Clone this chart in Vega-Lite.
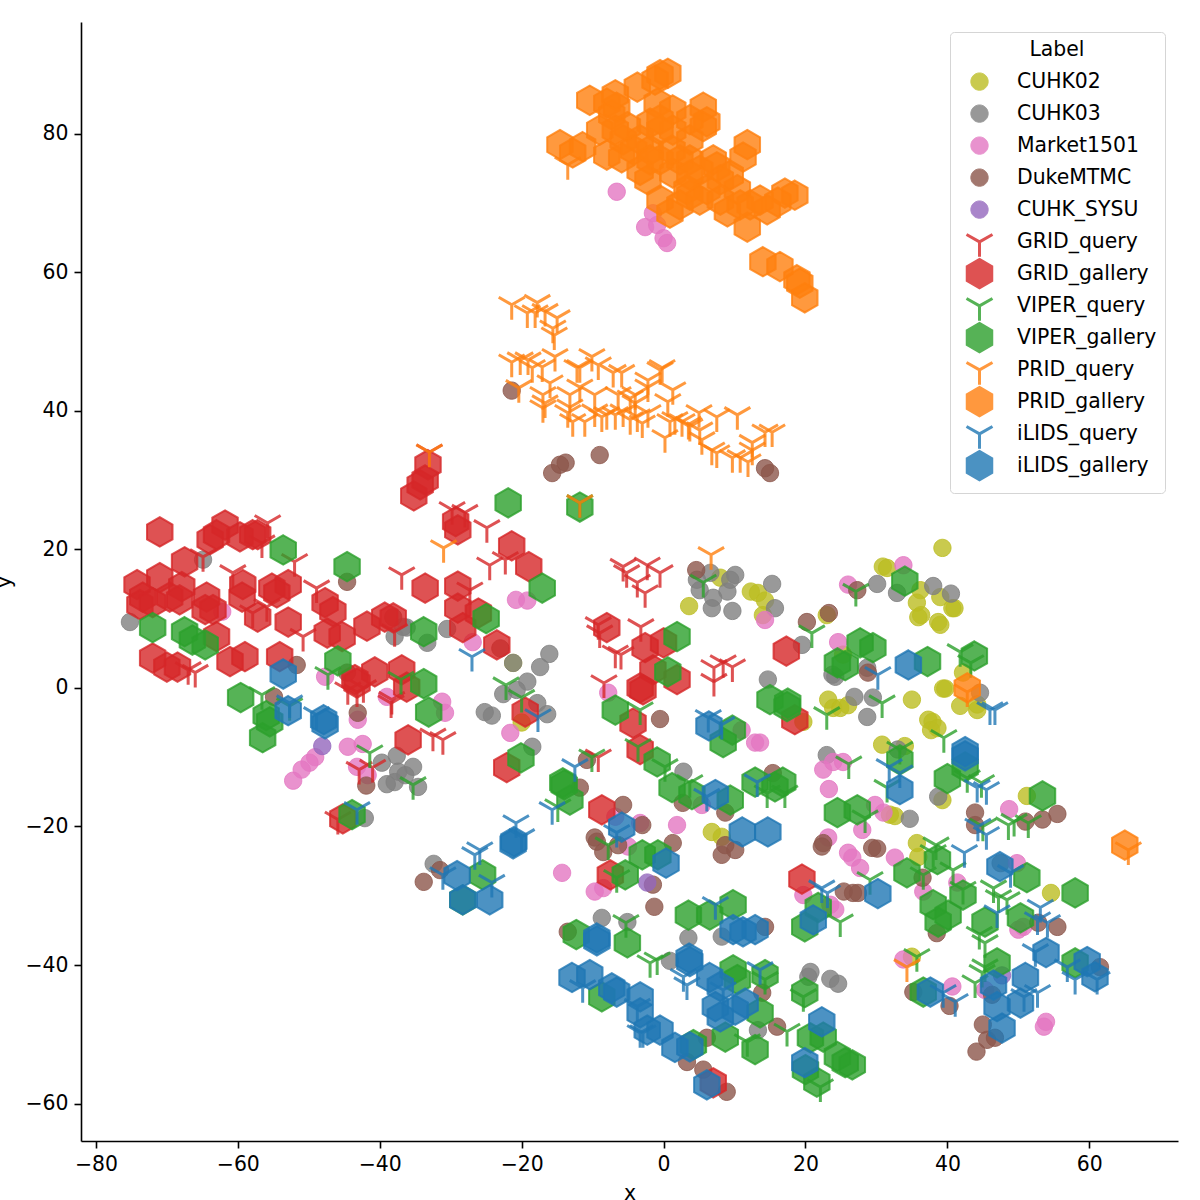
{
"$schema":"https://vega.github.io/schema/vega-lite/v6.json",
"width":1097,"height":1119,"autosize":"none",
"padding":{"left":81,"top":22,"right":22,"bottom":59},
"background":"white",
"config":{"view":{"stroke":null},"font":"DejaVu Sans"},
"data":{"values":[
{"x":39.3,"y":20.2,"Label":"CUHK02"},{"x":30.9,"y":17.5,"Label":"CUHK02"},{"x":31.5,"y":17.3,"Label":"CUHK02"},{"x":36.2,"y":14.1,"Label":"CUHK02"},{"x":35.7,"y":12.3,"Label":"CUHK02"},{"x":36.3,"y":10.5,"Label":"CUHK02"},{"x":35.9,"y":10.2,"Label":"CUHK02"},{"x":38.7,"y":9.5,"Label":"CUHK02"},{"x":39,"y":9.1,"Label":"CUHK02"},{"x":39,"y":13.1,"Label":"CUHK02"},{"x":40.7,"y":11.5,"Label":"CUHK02"},{"x":41,"y":11.5,"Label":"CUHK02"},{"x":25.3,"y":4.8,"Label":"CUHK02"},{"x":42.2,"y":2.2,"Label":"CUHK02"},{"x":39.7,"y":-0.1,"Label":"CUHK02"},{"x":39.4,"y":-0.1,"Label":"CUHK02"},{"x":41.8,"y":-2.6,"Label":"CUHK02"},{"x":44.2,"y":-3.2,"Label":"CUHK02"},{"x":44.2,"y":-2.4,"Label":"CUHK02"},{"x":23.2,"y":-1.7,"Label":"CUHK02"},{"x":23.9,"y":-2.9,"Label":"CUHK02"},{"x":24.9,"y":-2.9,"Label":"CUHK02"},{"x":26,"y":-2.5,"Label":"CUHK02"},{"x":35,"y":-1.7,"Label":"CUHK02"},{"x":37.3,"y":-4.6,"Label":"CUHK02"},{"x":37.9,"y":-4.9,"Label":"CUHK02"},{"x":37.7,"y":-6.1,"Label":"CUHK02"},{"x":38.6,"y":-5.8,"Label":"CUHK02"},{"x":30.8,"y":-8.2,"Label":"CUHK02"},{"x":34,"y":-8.4,"Label":"CUHK02"},{"x":39.3,"y":-16.2,"Label":"CUHK02"},{"x":51.2,"y":-15.6,"Label":"CUHK02"},{"x":31.9,"y":-18.3,"Label":"CUHK02"},{"x":32.6,"y":-18.5,"Label":"CUHK02"},{"x":35.7,"y":-22.4,"Label":"CUHK02"},{"x":35.9,"y":-24.4,"Label":"CUHK02"},{"x":54.6,"y":-29.6,"Label":"CUHK02"},{"x":35,"y":-38.8,"Label":"CUHK02"},{"x":3.6,"y":11.8,"Label":"CUHK02"},{"x":8,"y":15.9,"Label":"CUHK02"},{"x":12.3,"y":13.9,"Label":"CUHK02"},{"x":13.3,"y":13.7,"Label":"CUHK02"},{"x":14.3,"y":12.6,"Label":"CUHK02"},{"x":14,"y":10.5,"Label":"CUHK02"},{"x":19.7,"y":-4.9,"Label":"CUHK02"},{"x":6.8,"y":-20.8,"Label":"CUHK02"},{"x":8.2,"y":-21.5,"Label":"CUHK02"},{"x":23,"y":10.5,"Label":"CUHK02"},{"x":-21.2,"y":3.6,"Label":"CUHK02"},{"x":-20,"y":-5,"Label":"CUHK02"},
{"x":-75.2,"y":9.5,"Label":"CUHK03"},{"x":-64.9,"y":18.5,"Label":"CUHK03"},{"x":-37.9,"y":7.4,"Label":"CUHK03"},{"x":-36.2,"y":8.7,"Label":"CUHK03"},{"x":-33.3,"y":6.5,"Label":"CUHK03"},{"x":-36.7,"y":8.8,"Label":"CUHK03"},{"x":-30.5,"y":8.5,"Label":"CUHK03"},{"x":-39.7,"y":-10.8,"Label":"CUHK03"},{"x":-37.6,"y":-9.8,"Label":"CUHK03"},{"x":-35.3,"y":-11.4,"Label":"CUHK03"},{"x":-37.4,"y":-12.1,"Label":"CUHK03"},{"x":-36.4,"y":-12.6,"Label":"CUHK03"},{"x":-39,"y":-13.9,"Label":"CUHK03"},{"x":-37.9,"y":-13.6,"Label":"CUHK03"},{"x":-34.6,"y":-14.3,"Label":"CUHK03"},{"x":-42.1,"y":-18.8,"Label":"CUHK03"},{"x":-32.4,"y":-25.4,"Label":"CUHK03"},{"x":-16.1,"y":4.9,"Label":"CUHK03"},{"x":-17.4,"y":3,"Label":"CUHK03"},{"x":-21.2,"y":3.6,"Label":"CUHK03"},{"x":-19.2,"y":0.9,"Label":"CUHK03"},{"x":-22.6,"y":-0.9,"Label":"CUHK03"},{"x":-20.7,"y":-0.3,"Label":"CUHK03"},{"x":-17.8,"y":-2.2,"Label":"CUHK03"},{"x":-16.4,"y":-3.8,"Label":"CUHK03"},{"x":-25.2,"y":-3.5,"Label":"CUHK03"},{"x":-24.2,"y":-4,"Label":"CUHK03"},{"x":-18.5,"y":-8.5,"Label":"CUHK03"},{"x":6.6,"y":16.6,"Label":"CUHK03"},{"x":4.7,"y":15.6,"Label":"CUHK03"},{"x":5.1,"y":14.1,"Label":"CUHK03"},{"x":7,"y":13,"Label":"CUHK03"},{"x":6.8,"y":11.5,"Label":"CUHK03"},{"x":9,"y":13.9,"Label":"CUHK03"},{"x":9.4,"y":15.6,"Label":"CUHK03"},{"x":10.1,"y":16.3,"Label":"CUHK03"},{"x":9.7,"y":11.1,"Label":"CUHK03"},{"x":15.3,"y":15,"Label":"CUHK03"},{"x":15.7,"y":11.5,"Label":"CUHK03"},{"x":19.5,"y":6.2,"Label":"CUHK03"},{"x":14.7,"y":1.2,"Label":"CUHK03"},{"x":23,"y":-9.7,"Label":"CUHK03"},{"x":2.8,"y":-12.1,"Label":"CUHK03"},{"x":24.2,"y":1.6,"Label":"CUHK03"},{"x":30.1,"y":15,"Label":"CUHK03"},{"x":32.9,"y":13.7,"Label":"CUHK03"},{"x":38,"y":14.7,"Label":"CUHK03"},{"x":40.5,"y":13.6,"Label":"CUHK03"},{"x":26.9,"y":-1.3,"Label":"CUHK03"},{"x":29.5,"y":-1.4,"Label":"CUHK03"},{"x":28.7,"y":-4.2,"Label":"CUHK03"},{"x":23.8,"y":1.9,"Label":"CUHK03"},{"x":28.7,"y":2.9,"Label":"CUHK03"},{"x":44.6,"y":-0.7,"Label":"CUHK03"},{"x":33,"y":-8.9,"Label":"CUHK03"},{"x":38.7,"y":-15.7,"Label":"CUHK03"},{"x":34.7,"y":-18.9,"Label":"CUHK03"},{"x":-8.7,"y":-33.2,"Label":"CUHK03"},{"x":-5.1,"y":-33.8,"Label":"CUHK03"},{"x":3.5,"y":-36.1,"Label":"CUHK03"},{"x":0.9,"y":-39.4,"Label":"CUHK03"},{"x":8.2,"y":-35.9,"Label":"CUHK03"},{"x":20.7,"y":-41,"Label":"CUHK03"},{"x":20.4,"y":-41.7,"Label":"CUHK03"},{"x":23.5,"y":-42,"Label":"CUHK03"},{"x":24.6,"y":-42.7,"Label":"CUHK03"},{"x":13.3,"y":-49.4,"Label":"CUHK03"},{"x":47.5,"y":-25.3,"Label":"CUHK03"},
{"x":-6.6,"y":71.6,"Label":"Market1501"},{"x":-1.5,"y":68.5,"Label":"Market1501"},{"x":-2.6,"y":66.5,"Label":"Market1501"},{"x":-0.9,"y":66.8,"Label":"Market1501"},{"x":0,"y":64.9,"Label":"Market1501"},{"x":0.5,"y":64.2,"Label":"Market1501"},{"x":-47.7,"y":1.6,"Label":"Market1501"},{"x":-43.1,"y":-4.6,"Label":"Market1501"},{"x":-44.5,"y":-8.5,"Label":"Market1501"},{"x":-42.4,"y":-8.1,"Label":"Market1501"},{"x":-43.2,"y":-11.4,"Label":"Market1501"},{"x":-41.7,"y":-12.6,"Label":"Market1501"},{"x":-49.1,"y":-10,"Label":"Market1501"},{"x":-49.9,"y":-10.8,"Label":"Market1501"},{"x":-51,"y":-11.8,"Label":"Market1501"},{"x":-52.2,"y":-13.4,"Label":"Market1501"},{"x":-39,"y":-1.3,"Label":"Market1501"},{"x":-31.2,"y":-2,"Label":"Market1501"},{"x":-30.8,"y":-3.6,"Label":"Market1501"},{"x":-21.6,"y":-6.5,"Label":"Market1501"},{"x":-14.3,"y":-26.7,"Label":"Market1501"},{"x":-26.9,"y":6.6,"Label":"Market1501"},{"x":-62.2,"y":11,"Label":"Market1501"},{"x":-20.8,"y":12.7,"Label":"Market1501"},{"x":-19.2,"y":12.6,"Label":"Market1501"},{"x":14.3,"y":9.8,"Label":"Market1501"},{"x":26,"y":14.9,"Label":"Market1501"},{"x":33.8,"y":17.7,"Label":"Market1501"},{"x":24.6,"y":6.6,"Label":"Market1501"},{"x":12.9,"y":-7.9,"Label":"Market1501"},{"x":13.6,"y":-7.9,"Label":"Market1501"},{"x":-7.8,"y":-0.7,"Label":"Market1501"},{"x":11,"y":-6.1,"Label":"Market1501"},{"x":22.5,"y":-11.8,"Label":"Market1501"},{"x":23.9,"y":-10.7,"Label":"Market1501"},{"x":25.3,"y":-10.7,"Label":"Market1501"},{"x":23.3,"y":-14.6,"Label":"Market1501"},{"x":1.9,"y":-19.8,"Label":"Market1501"},{"x":-3.3,"y":-19.5,"Label":"Market1501"},{"x":-6.8,"y":-18.6,"Label":"Market1501"},{"x":5.4,"y":-16.9,"Label":"Market1501"},{"x":29.8,"y":-16.9,"Label":"Market1501"},{"x":31,"y":-18,"Label":"Market1501"},{"x":48.7,"y":-17.5,"Label":"Market1501"},{"x":28,"y":-20.5,"Label":"Market1501"},{"x":26,"y":-23.8,"Label":"Market1501"},{"x":26.6,"y":-24.5,"Label":"Market1501"},{"x":27.7,"y":-26,"Label":"Market1501"},{"x":32.6,"y":-24.5,"Label":"Market1501"},{"x":49.8,"y":-25.3,"Label":"Market1501"},{"x":23.2,"y":-21.6,"Label":"Market1501"},{"x":-9.7,"y":-29.4,"Label":"Market1501"},{"x":-8.5,"y":-28.9,"Label":"Market1501"},{"x":-5,"y":-22.9,"Label":"Market1501"},{"x":19.7,"y":-29.9,"Label":"Market1501"},{"x":23.5,"y":-31.3,"Label":"Market1501"},{"x":24.2,"y":-32,"Label":"Market1501"},{"x":41.4,"y":-28.1,"Label":"Market1501"},{"x":36.6,"y":-29.4,"Label":"Market1501"},{"x":50,"y":-34.9,"Label":"Market1501"},{"x":50.7,"y":-34.5,"Label":"Market1501"},{"x":40.7,"y":-43.1,"Label":"Market1501"},{"x":33.8,"y":-39.2,"Label":"Market1501"},{"x":45.3,"y":-43.6,"Label":"Market1501"},{"x":53.9,"y":-48.2,"Label":"Market1501"},{"x":53.6,"y":-48.9,"Label":"Market1501"},
{"x":-21.4,"y":42.9,"Label":"DukeMTMC"},{"x":-15.7,"y":31,"Label":"DukeMTMC"},{"x":-14.6,"y":32.2,"Label":"DukeMTMC"},{"x":-13.8,"y":32.5,"Label":"DukeMTMC"},{"x":-9,"y":33.6,"Label":"DukeMTMC"},{"x":14.3,"y":31.7,"Label":"DukeMTMC"},{"x":15,"y":31,"Label":"DukeMTMC"},{"x":-51.7,"y":3.3,"Label":"DukeMTMC"},{"x":-54.9,"y":-1.3,"Label":"DukeMTMC"},{"x":-44.6,"y":15.3,"Label":"DukeMTMC"},{"x":-43.1,"y":-3.6,"Label":"DukeMTMC"},{"x":-44.6,"y":2.2,"Label":"DukeMTMC"},{"x":-38.1,"y":10.2,"Label":"DukeMTMC"},{"x":-41.9,"y":-14.1,"Label":"DukeMTMC"},{"x":-33.8,"y":-28,"Label":"DukeMTMC"},{"x":-31.5,"y":-26.3,"Label":"DukeMTMC"},{"x":-23,"y":5.7,"Label":"DukeMTMC"},{"x":4.6,"y":17,"Label":"DukeMTMC"},{"x":20.2,"y":9.5,"Label":"DukeMTMC"},{"x":23.3,"y":10.8,"Label":"DukeMTMC"},{"x":-0.5,"y":-4.5,"Label":"DukeMTMC"},{"x":-10.8,"y":-10.4,"Label":"DukeMTMC"},{"x":-11.8,"y":-14.4,"Label":"DukeMTMC"},{"x":15.4,"y":-12.3,"Label":"DukeMTMC"},{"x":2.7,"y":-16.6,"Label":"DukeMTMC"},{"x":8.7,"y":-18,"Label":"DukeMTMC"},{"x":-5.7,"y":-16.9,"Label":"DukeMTMC"},{"x":-3,"y":-19.8,"Label":"DukeMTMC"},{"x":-9.7,"y":-21.6,"Label":"DukeMTMC"},{"x":-9.4,"y":-22.2,"Label":"DukeMTMC"},{"x":-8.5,"y":-23.7,"Label":"DukeMTMC"},{"x":-6.4,"y":-22.7,"Label":"DukeMTMC"},{"x":1.3,"y":-22.4,"Label":"DukeMTMC"},{"x":-1.3,"y":-31.6,"Label":"DukeMTMC"},{"x":-1.5,"y":-28.4,"Label":"DukeMTMC"},{"x":8.7,"y":-22.7,"Label":"DukeMTMC"},{"x":8.2,"y":-24.1,"Label":"DukeMTMC"},{"x":10.1,"y":-23.4,"Label":"DukeMTMC"},{"x":22.5,"y":-22.4,"Label":"DukeMTMC"},{"x":22.3,"y":-22.9,"Label":"DukeMTMC"},{"x":25.4,"y":-29.4,"Label":"DukeMTMC"},{"x":26.7,"y":-29.6,"Label":"DukeMTMC"},{"x":27.4,"y":-29.6,"Label":"DukeMTMC"},{"x":-13.5,"y":-35.2,"Label":"DukeMTMC"},{"x":14.3,"y":-34.5,"Label":"DukeMTMC"},{"x":13.9,"y":-44,"Label":"DukeMTMC"},{"x":16,"y":-48.9,"Label":"DukeMTMC"},{"x":6.1,"y":-50.5,"Label":"DukeMTMC"},{"x":5.6,"y":-55.1,"Label":"DukeMTMC"},{"x":8.9,"y":-58.3,"Label":"DukeMTMC"},{"x":3.3,"y":-54,"Label":"DukeMTMC"},{"x":27.3,"y":14.1,"Label":"DukeMTMC"},{"x":28.8,"y":2.2,"Label":"DukeMTMC"},{"x":43.9,"y":-18,"Label":"DukeMTMC"},{"x":43.9,"y":-19.8,"Label":"DukeMTMC"},{"x":51,"y":-19.3,"Label":"DukeMTMC"},{"x":53.4,"y":-19,"Label":"DukeMTMC"},{"x":55.5,"y":-18.2,"Label":"DukeMTMC"},{"x":29.4,"y":-23.1,"Label":"DukeMTMC"},{"x":30.1,"y":-23.2,"Label":"DukeMTMC"},{"x":36.5,"y":-27.4,"Label":"DukeMTMC"},{"x":38.5,"y":-35.4,"Label":"DukeMTMC"},{"x":55.5,"y":-34.5,"Label":"DukeMTMC"},{"x":52.8,"y":-33.9,"Label":"DukeMTMC"},{"x":35.2,"y":-43.9,"Label":"DukeMTMC"},{"x":40.3,"y":-45.9,"Label":"DukeMTMC"},{"x":45,"y":-48.6,"Label":"DukeMTMC"},{"x":45.6,"y":-50.8,"Label":"DukeMTMC"},{"x":46.7,"y":-50.5,"Label":"DukeMTMC"},{"x":44.1,"y":-52.5,"Label":"DukeMTMC"},{"x":46.3,"y":-44.3,"Label":"DukeMTMC"},{"x":61.5,"y":-40.3,"Label":"DukeMTMC"},
{"x":-48.1,"y":-8.4,"Label":"CUHK_SYSU"},{"x":-2.3,"y":-28.1,"Label":"CUHK_SYSU"},{"x":47.7,"y":-41.5,"Label":"CUHK_SYSU"},
{"x":-55.8,"y":23.8,"Label":"GRID_query"},{"x":-56.6,"y":20.9,"Label":"GRID_query"},{"x":-64.9,"y":18.9,"Label":"GRID_query"},{"x":-60.7,"y":16.6,"Label":"GRID_query"},{"x":-57.9,"y":10.8,"Label":"GRID_query"},{"x":-52,"y":18.2,"Label":"GRID_query"},{"x":-48.9,"y":14.4,"Label":"GRID_query"},{"x":-55.9,"y":11.7,"Label":"GRID_query"},{"x":-50.8,"y":7.4,"Label":"GRID_query"},{"x":-66,"y":2.2,"Label":"GRID_query"},{"x":-67,"y":2.6,"Label":"GRID_query"},{"x":-38.3,"y":-1.7,"Label":"GRID_query"},{"x":-36.9,"y":16.3,"Label":"GRID_query"},{"x":-33,"y":34,"Label":"GRID_query"},{"x":-29.8,"y":25.7,"Label":"GRID_query"},{"x":-28,"y":25.3,"Label":"GRID_query"},{"x":-24.9,"y":23.1,"Label":"GRID_query"},{"x":-24.5,"y":17.7,"Label":"GRID_query"},{"x":-22.3,"y":18.5,"Label":"GRID_query"},{"x":-27.3,"y":14.1,"Label":"GRID_query"},{"x":-37.9,"y":8.1,"Label":"GRID_query"},{"x":-44.5,"y":-0.3,"Label":"GRID_query"},{"x":-43.2,"y":-0.6,"Label":"GRID_query"},{"x":-42.3,"y":0,"Label":"GRID_query"},{"x":-38.4,"y":-2.2,"Label":"GRID_query"},{"x":-32.5,"y":-7,"Label":"GRID_query"},{"x":-31.1,"y":-7.5,"Label":"GRID_query"},{"x":-42.9,"y":-11.8,"Label":"GRID_query"},{"x":-41,"y":-11.5,"Label":"GRID_query"},{"x":-45.9,"y":-19,"Label":"GRID_query"},{"x":-5.7,"y":17.5,"Label":"GRID_query"},{"x":-2.3,"y":17.7,"Label":"GRID_query"},{"x":-5.2,"y":16.6,"Label":"GRID_query"},{"x":-3.7,"y":15.2,"Label":"GRID_query"},{"x":-0.5,"y":16.6,"Label":"GRID_query"},{"x":-2.6,"y":13.7,"Label":"GRID_query"},{"x":-9.2,"y":9.1,"Label":"GRID_query"},{"x":-9,"y":7.9,"Label":"GRID_query"},{"x":-3.2,"y":8.8,"Label":"GRID_query"},{"x":-6.8,"y":5,"Label":"GRID_query"},{"x":-6,"y":4.8,"Label":"GRID_query"},{"x":8.4,"y":3.6,"Label":"GRID_query"},{"x":9.7,"y":3,"Label":"GRID_query"},{"x":7.1,"y":2.9,"Label":"GRID_query"},{"x":7.1,"y":0.9,"Label":"GRID_query"},{"x":-8.4,"y":0.7,"Label":"GRID_query"},{"x":-9.2,"y":-10,"Label":"GRID_query"},
{"x":-71,"y":22.5,"Label":"GRID_gallery"},{"x":-61.8,"y":23.5,"Label":"GRID_gallery"},{"x":-63.9,"y":21.4,"Label":"GRID_gallery"},{"x":-63,"y":22.1,"Label":"GRID_gallery"},{"x":-59.7,"y":21.8,"Label":"GRID_gallery"},{"x":-57.9,"y":22.1,"Label":"GRID_gallery"},{"x":-57.2,"y":22.1,"Label":"GRID_gallery"},{"x":-67.5,"y":18.2,"Label":"GRID_gallery"},{"x":-74.2,"y":14.9,"Label":"GRID_gallery"},{"x":-71,"y":15.9,"Label":"GRID_gallery"},{"x":-73.4,"y":13.1,"Label":"GRID_gallery"},{"x":-73.8,"y":12,"Label":"GRID_gallery"},{"x":-67.9,"y":14.6,"Label":"GRID_gallery"},{"x":-72,"y":12.3,"Label":"GRID_gallery"},{"x":-69.6,"y":13.1,"Label":"GRID_gallery"},{"x":-68.2,"y":12.7,"Label":"GRID_gallery"},{"x":-64.4,"y":13.1,"Label":"GRID_gallery"},{"x":-64.6,"y":11.3,"Label":"GRID_gallery"},{"x":-63.5,"y":11.3,"Label":"GRID_gallery"},{"x":-63,"y":7.4,"Label":"GRID_gallery"},{"x":-59.3,"y":14.9,"Label":"GRID_gallery"},{"x":-59.4,"y":13.1,"Label":"GRID_gallery"},{"x":-55.2,"y":14.4,"Label":"GRID_gallery"},{"x":-52.9,"y":14.9,"Label":"GRID_gallery"},{"x":-57.2,"y":10.2,"Label":"GRID_gallery"},{"x":-52.9,"y":9.5,"Label":"GRID_gallery"},{"x":-54.5,"y":13.7,"Label":"GRID_gallery"},{"x":-47.7,"y":12.3,"Label":"GRID_gallery"},{"x":-46.6,"y":11,"Label":"GRID_gallery"},{"x":-47.4,"y":7.9,"Label":"GRID_gallery"},{"x":-45.3,"y":7.4,"Label":"GRID_gallery"},{"x":-41.8,"y":8.9,"Label":"GRID_gallery"},{"x":-39.3,"y":10.2,"Label":"GRID_gallery"},{"x":-38.1,"y":10.1,"Label":"GRID_gallery"},{"x":-61.1,"y":3.8,"Label":"GRID_gallery"},{"x":-59,"y":4.5,"Label":"GRID_gallery"},{"x":-54.1,"y":4.5,"Label":"GRID_gallery"},{"x":-72,"y":4.3,"Label":"GRID_gallery"},{"x":-70,"y":3,"Label":"GRID_gallery"},{"x":-68.5,"y":3,"Label":"GRID_gallery"},{"x":-43.5,"y":1.2,"Label":"GRID_gallery"},{"x":-40.7,"y":2.3,"Label":"GRID_gallery"},{"x":-36.9,"y":2.6,"Label":"GRID_gallery"},{"x":-36.2,"y":0.1,"Label":"GRID_gallery"},{"x":-43.2,"y":0.7,"Label":"GRID_gallery"},{"x":-35.2,"y":27.7,"Label":"GRID_gallery"},{"x":-34.3,"y":29.3,"Label":"GRID_gallery"},{"x":-33.2,"y":32.2,"Label":"GRID_gallery"},{"x":-33.6,"y":30,"Label":"GRID_gallery"},{"x":-29.3,"y":24,"Label":"GRID_gallery"},{"x":-29,"y":22.8,"Label":"GRID_gallery"},{"x":-33.6,"y":14.4,"Label":"GRID_gallery"},{"x":-29,"y":14.7,"Label":"GRID_gallery"},{"x":-29,"y":11.5,"Label":"GRID_gallery"},{"x":-26.1,"y":10.8,"Label":"GRID_gallery"},{"x":-28.3,"y":8.7,"Label":"GRID_gallery"},{"x":-23.5,"y":6.2,"Label":"GRID_gallery"},{"x":-21.4,"y":20.5,"Label":"GRID_gallery"},{"x":-19,"y":17.5,"Label":"GRID_gallery"},{"x":-36,"y":-7.5,"Label":"GRID_gallery"},{"x":-22.1,"y":-11.5,"Label":"GRID_gallery"},{"x":-45.2,"y":-18.9,"Label":"GRID_gallery"},{"x":-19.5,"y":-3.5,"Label":"GRID_gallery"},{"x":-8,"y":8.7,"Label":"GRID_gallery"},{"x":-2.6,"y":5.8,"Label":"GRID_gallery"},{"x":0,"y":6.5,"Label":"GRID_gallery"},{"x":1.9,"y":1.2,"Label":"GRID_gallery"},{"x":-1.5,"y":2.6,"Label":"GRID_gallery"},{"x":-2.9,"y":-0.3,"Label":"GRID_gallery"},{"x":-4.3,"y":-5.1,"Label":"GRID_gallery"},{"x":-3.3,"y":-8.9,"Label":"GRID_gallery"},{"x":17.3,"y":5.3,"Label":"GRID_gallery"},{"x":18.5,"y":-4.6,"Label":"GRID_gallery"},{"x":-8.7,"y":-17.6,"Label":"GRID_gallery"},{"x":-3.3,"y":0,"Label":"GRID_gallery"},{"x":-7.5,"y":-27,"Label":"GRID_gallery"},{"x":19.5,"y":-27.6,"Label":"GRID_gallery"},{"x":7,"y":-57,"Label":"GRID_gallery"},
{"x":-47.3,"y":1.9,"Label":"VIPER_query"},{"x":-37,"y":1.2,"Label":"VIPER_query"},{"x":-41.4,"y":-9.4,"Label":"VIPER_query"},{"x":-35.3,"y":-14,"Label":"VIPER_query"},{"x":-22.2,"y":0.4,"Label":"VIPER_query"},{"x":-20,"y":-1.4,"Label":"VIPER_query"},{"x":5.6,"y":15.2,"Label":"VIPER_query"},{"x":-3.3,"y":-3.2,"Label":"VIPER_query"},{"x":-3.6,"y":-8.5,"Label":"VIPER_query"},{"x":0.2,"y":-11.4,"Label":"VIPER_query"},{"x":3.7,"y":-13.7,"Label":"VIPER_query"},{"x":-10.1,"y":-10,"Label":"VIPER_query"},{"x":20.9,"y":7.9,"Label":"VIPER_query"},{"x":23,"y":-3.9,"Label":"VIPER_query"},{"x":14.6,"y":-15.2,"Label":"VIPER_query"},{"x":17.1,"y":-15.2,"Label":"VIPER_query"},{"x":-14.9,"y":-17.2,"Label":"VIPER_query"},{"x":-11.8,"y":26.7,"Label":"VIPER_query"},{"x":27.1,"y":13.9,"Label":"VIPER_query"},{"x":30.8,"y":-2.2,"Label":"VIPER_query"},{"x":39.5,"y":-7.2,"Label":"VIPER_query"},{"x":41.8,"y":5.2,"Label":"VIPER_query"},{"x":43.3,"y":3.6,"Label":"VIPER_query"},{"x":26.1,"y":-11,"Label":"VIPER_query"},{"x":33.3,"y":-8.9,"Label":"VIPER_query"},{"x":31.5,"y":-14.4,"Label":"VIPER_query"},{"x":28.4,"y":-18.8,"Label":"VIPER_query"},{"x":42.8,"y":-13,"Label":"VIPER_query"},{"x":45,"y":-20,"Label":"VIPER_query"},{"x":48.6,"y":-19.8,"Label":"VIPER_query"},{"x":49.4,"y":-19.3,"Label":"VIPER_query"},{"x":51.4,"y":-19.5,"Label":"VIPER_query"},{"x":44.8,"y":-13.7,"Label":"VIPER_query"},{"x":38.4,"y":-22.7,"Label":"VIPER_query"},{"x":38,"y":-23.8,"Label":"VIPER_query"},{"x":29.1,"y":-27.7,"Label":"VIPER_query"},{"x":24.9,"y":-33.8,"Label":"VIPER_query"},{"x":35.7,"y":-38.8,"Label":"VIPER_query"},{"x":40.8,"y":-26.3,"Label":"VIPER_query"},{"x":42.2,"y":-29.1,"Label":"VIPER_query"},{"x":36.6,"y":-27,"Label":"VIPER_query"},{"x":46.5,"y":-28.9,"Label":"VIPER_query"},{"x":48.4,"y":-30.6,"Label":"VIPER_query"},{"x":47.2,"y":-30.3,"Label":"VIPER_query"},{"x":44.5,"y":-35.6,"Label":"VIPER_query"},{"x":45.3,"y":-36.8,"Label":"VIPER_query"},{"x":45.3,"y":-40.3,"Label":"VIPER_query"},{"x":43.9,"y":-42.6,"Label":"VIPER_query"},{"x":44.9,"y":-41.1,"Label":"VIPER_query"},{"x":-1.9,"y":-39.7,"Label":"VIPER_query"},{"x":-0.9,"y":-39.3,"Label":"VIPER_query"},{"x":-5.3,"y":-33.9,"Label":"VIPER_query"},{"x":-7.8,"y":-22.7,"Label":"VIPER_query"},{"x":-6.6,"y":-27.4,"Label":"VIPER_query"},{"x":17.4,"y":-49.6,"Label":"VIPER_query"},{"x":11.8,"y":-51.1,"Label":"VIPER_query"},{"x":19.7,"y":-44.6,"Label":"VIPER_query"},{"x":22.1,"y":-57.6,"Label":"VIPER_query"},{"x":14.3,"y":-42.1,"Label":"VIPER_query"},{"x":-56.6,"y":-1,"Label":"VIPER_query"},{"x":-52.7,"y":-2.6,"Label":"VIPER_query"},
{"x":-53.6,"y":19.9,"Label":"VIPER_gallery"},{"x":-44.6,"y":17.5,"Label":"VIPER_gallery"},{"x":-72,"y":8.7,"Label":"VIPER_gallery"},{"x":-67.5,"y":8.1,"Label":"VIPER_gallery"},{"x":-66.4,"y":6.9,"Label":"VIPER_gallery"},{"x":-64.6,"y":6.2,"Label":"VIPER_gallery"},{"x":-45.9,"y":3.9,"Label":"VIPER_gallery"},{"x":-59.6,"y":-1.4,"Label":"VIPER_gallery"},{"x":-56,"y":-4,"Label":"VIPER_gallery"},{"x":-56.5,"y":-7.2,"Label":"VIPER_gallery"},{"x":-55.5,"y":-4.9,"Label":"VIPER_gallery"},{"x":-33.8,"y":8.1,"Label":"VIPER_gallery"},{"x":-33.8,"y":0.6,"Label":"VIPER_gallery"},{"x":-33.1,"y":-3.5,"Label":"VIPER_gallery"},{"x":-21.9,"y":26.7,"Label":"VIPER_gallery"},{"x":-11.8,"y":26.1,"Label":"VIPER_gallery"},{"x":-17.1,"y":14.4,"Label":"VIPER_gallery"},{"x":-25,"y":10,"Label":"VIPER_gallery"},{"x":-43.9,"y":-18.3,"Label":"VIPER_gallery"},{"x":-20.1,"y":-10.1,"Label":"VIPER_gallery"},{"x":-14,"y":-14,"Label":"VIPER_gallery"},{"x":-13.2,"y":-16.2,"Label":"VIPER_gallery"},{"x":-14.2,"y":-13.7,"Label":"VIPER_gallery"},{"x":1.9,"y":7.4,"Label":"VIPER_gallery"},{"x":0.6,"y":2.3,"Label":"VIPER_gallery"},{"x":-6.8,"y":-3.2,"Label":"VIPER_gallery"},{"x":8.4,"y":-7.9,"Label":"VIPER_gallery"},{"x":9.7,"y":-6.1,"Label":"VIPER_gallery"},{"x":-0.9,"y":-10.7,"Label":"VIPER_gallery"},{"x":1.2,"y":-14.4,"Label":"VIPER_gallery"},{"x":4,"y":-15.4,"Label":"VIPER_gallery"},{"x":9.4,"y":-16.2,"Label":"VIPER_gallery"},{"x":12.9,"y":-13.6,"Label":"VIPER_gallery"},{"x":15.7,"y":-14.3,"Label":"VIPER_gallery"},{"x":16.8,"y":-13.6,"Label":"VIPER_gallery"},{"x":15,"y":-1.7,"Label":"VIPER_gallery"},{"x":17.5,"y":-2.2,"Label":"VIPER_gallery"},{"x":17.4,"y":-2.7,"Label":"VIPER_gallery"},{"x":24.5,"y":3.6,"Label":"VIPER_gallery"},{"x":24.5,"y":-18,"Label":"VIPER_gallery"},{"x":34,"y":15.4,"Label":"VIPER_gallery"},{"x":27.7,"y":6.5,"Label":"VIPER_gallery"},{"x":29.5,"y":5.8,"Label":"VIPER_gallery"},{"x":25.6,"y":3.2,"Label":"VIPER_gallery"},{"x":37.2,"y":3.8,"Label":"VIPER_gallery"},{"x":43.8,"y":4.6,"Label":"VIPER_gallery"},{"x":33.3,"y":-10.4,"Label":"VIPER_gallery"},{"x":42.5,"y":-11.4,"Label":"VIPER_gallery"},{"x":40,"y":-13.1,"Label":"VIPER_gallery"},{"x":53.4,"y":-15.6,"Label":"VIPER_gallery"},{"x":27.3,"y":-17.6,"Label":"VIPER_gallery"},{"x":34.3,"y":-26.7,"Label":"VIPER_gallery"},{"x":38.6,"y":-24.8,"Label":"VIPER_gallery"},{"x":42.2,"y":-29.9,"Label":"VIPER_gallery"},{"x":38,"y":-31.3,"Label":"VIPER_gallery"},{"x":40.1,"y":-32.8,"Label":"VIPER_gallery"},{"x":38.7,"y":-33.8,"Label":"VIPER_gallery"},{"x":45.3,"y":-33.8,"Label":"VIPER_gallery"},{"x":50.3,"y":-33.2,"Label":"VIPER_gallery"},{"x":51.2,"y":-27.4,"Label":"VIPER_gallery"},{"x":58,"y":-29.6,"Label":"VIPER_gallery"},{"x":47,"y":-39.7,"Label":"VIPER_gallery"},{"x":58,"y":-39.7,"Label":"VIPER_gallery"},{"x":36.6,"y":-43.9,"Label":"VIPER_gallery"},{"x":-3,"y":-24.1,"Label":"VIPER_gallery"},{"x":-0.8,"y":-24.1,"Label":"VIPER_gallery"},{"x":-5.4,"y":-27,"Label":"VIPER_gallery"},{"x":3.5,"y":-32.8,"Label":"VIPER_gallery"},{"x":6.5,"y":-32.8,"Label":"VIPER_gallery"},{"x":9.8,"y":-31.3,"Label":"VIPER_gallery"},{"x":-12.3,"y":-35.6,"Label":"VIPER_gallery"},{"x":-5.1,"y":-36.8,"Label":"VIPER_gallery"},{"x":9.8,"y":-40.7,"Label":"VIPER_gallery"},{"x":10.4,"y":-42.1,"Label":"VIPER_gallery"},{"x":14.3,"y":-41.4,"Label":"VIPER_gallery"},{"x":-8.7,"y":-44.6,"Label":"VIPER_gallery"},{"x":13.6,"y":-46.9,"Label":"VIPER_gallery"},{"x":8.7,"y":-50.4,"Label":"VIPER_gallery"},{"x":12.9,"y":-52.2,"Label":"VIPER_gallery"},{"x":4.2,"y":-51.5,"Label":"VIPER_gallery"},{"x":19.9,"y":-44,"Label":"VIPER_gallery"},{"x":21.8,"y":-31.7,"Label":"VIPER_gallery"},{"x":19.9,"y":-34.5,"Label":"VIPER_gallery"},{"x":20.7,"y":-50.5,"Label":"VIPER_gallery"},{"x":22.5,"y":-50.4,"Label":"VIPER_gallery"},{"x":20,"y":-55.1,"Label":"VIPER_gallery"},{"x":21.6,"y":-56.9,"Label":"VIPER_gallery"},{"x":24.5,"y":-53.2,"Label":"VIPER_gallery"},{"x":25.6,"y":-54.1,"Label":"VIPER_gallery"},{"x":26.6,"y":-54.4,"Label":"VIPER_gallery"},{"x":-28.3,"y":-30.6,"Label":"VIPER_gallery"},{"x":-25.5,"y":-27,"Label":"VIPER_gallery"},
{"x":-21.4,"y":55.3,"Label":"PRID_query"},{"x":-17.8,"y":55.6,"Label":"PRID_query"},{"x":-19.2,"y":54.1,"Label":"PRID_query"},{"x":-18.1,"y":54.1,"Label":"PRID_query"},{"x":-16.7,"y":54.3,"Label":"PRID_query"},{"x":-15,"y":53.4,"Label":"PRID_query"},{"x":-15.6,"y":51.9,"Label":"PRID_query"},{"x":-15.4,"y":50.9,"Label":"PRID_query"},{"x":-15.3,"y":47.8,"Label":"PRID_query"},{"x":-21.4,"y":47,"Label":"PRID_query"},{"x":-20.2,"y":47.3,"Label":"PRID_query"},{"x":-19.1,"y":47.3,"Label":"PRID_query"},{"x":-18.5,"y":46.2,"Label":"PRID_query"},{"x":-17.1,"y":46.3,"Label":"PRID_query"},{"x":-20.4,"y":43.3,"Label":"PRID_query"},{"x":-16,"y":44,"Label":"PRID_query"},{"x":-17,"y":42.3,"Label":"PRID_query"},{"x":-16.7,"y":41.1,"Label":"PRID_query"},{"x":-17,"y":40.4,"Label":"PRID_query"},{"x":-13.2,"y":42.3,"Label":"PRID_query"},{"x":-13.2,"y":40.5,"Label":"PRID_query"},{"x":-12.8,"y":38.4,"Label":"PRID_query"},{"x":-13.5,"y":39.7,"Label":"PRID_query"},{"x":-12.2,"y":46.2,"Label":"PRID_query"},{"x":-11.8,"y":46.2,"Label":"PRID_query"},{"x":-11.8,"y":43.4,"Label":"PRID_query"},{"x":-10.1,"y":47.8,"Label":"PRID_query"},{"x":-9.2,"y":46.6,"Label":"PRID_query"},{"x":-7.1,"y":45.5,"Label":"PRID_query"},{"x":-5.9,"y":45.5,"Label":"PRID_query"},{"x":-9.7,"y":42.3,"Label":"PRID_query"},{"x":-9.7,"y":39.8,"Label":"PRID_query"},{"x":-11.1,"y":38.4,"Label":"PRID_query"},{"x":-8.7,"y":39.1,"Label":"PRID_query"},{"x":-8,"y":39.4,"Label":"PRID_query"},{"x":-6.8,"y":39.4,"Label":"PRID_query"},{"x":-5.7,"y":39.8,"Label":"PRID_query"},{"x":-6.4,"y":42.3,"Label":"PRID_query"},{"x":-4.7,"y":41.8,"Label":"PRID_query"},{"x":-4,"y":42.3,"Label":"PRID_query"},{"x":-4,"y":41.1,"Label":"PRID_query"},{"x":-2.2,"y":43.4,"Label":"PRID_query"},{"x":-2.2,"y":44.4,"Label":"PRID_query"},{"x":-0.5,"y":45.9,"Label":"PRID_query"},{"x":-0.2,"y":46.2,"Label":"PRID_query"},{"x":1.3,"y":43,"Label":"PRID_query"},{"x":0.6,"y":41.3,"Label":"PRID_query"},{"x":-2.2,"y":39.7,"Label":"PRID_query"},{"x":-3.7,"y":39.1,"Label":"PRID_query"},{"x":-4.7,"y":38.7,"Label":"PRID_query"},{"x":-3,"y":38.2,"Label":"PRID_query"},{"x":0.2,"y":36.1,"Label":"PRID_query"},{"x":0.9,"y":38.4,"Label":"PRID_query"},{"x":1.6,"y":38.7,"Label":"PRID_query"},{"x":2.6,"y":38.4,"Label":"PRID_query"},{"x":3.5,"y":38,"Label":"PRID_query"},{"x":5,"y":39.7,"Label":"PRID_query"},{"x":5.1,"y":37.2,"Label":"PRID_query"},{"x":7.5,"y":39.1,"Label":"PRID_query"},{"x":10.4,"y":39.4,"Label":"PRID_query"},{"x":6.8,"y":34.3,"Label":"PRID_query"},{"x":7.5,"y":33.9,"Label":"PRID_query"},{"x":5.4,"y":35.8,"Label":"PRID_query"},{"x":9.7,"y":33.2,"Label":"PRID_query"},{"x":10.8,"y":33.2,"Label":"PRID_query"},{"x":11.9,"y":32.6,"Label":"PRID_query"},{"x":12.5,"y":35.4,"Label":"PRID_query"},{"x":14.3,"y":36.9,"Label":"PRID_query"},{"x":15.3,"y":36.9,"Label":"PRID_query"},{"x":12.5,"y":34.3,"Label":"PRID_query"},{"x":3.7,"y":37.7,"Label":"PRID_query"},{"x":-33,"y":34,"Label":"PRID_query"},{"x":-31,"y":20.2,"Label":"PRID_query"},{"x":6.7,"y":19.2,"Label":"PRID_query"},{"x":-11.8,"y":26.7,"Label":"PRID_query"},{"x":42.8,"y":-0.6,"Label":"PRID_query"},{"x":34.3,"y":-40.3,"Label":"PRID_query"},{"x":65.5,"y":-23.4,"Label":"PRID_query"},{"x":-13.5,"y":75.5,"Label":"PRID_query"},
{"x":-14.6,"y":78.4,"Label":"PRID_gallery"},{"x":-12.8,"y":77.2,"Label":"PRID_gallery"},{"x":-11.4,"y":78.1,"Label":"PRID_gallery"},{"x":-8,"y":76.9,"Label":"PRID_gallery"},{"x":-5.9,"y":76.5,"Label":"PRID_gallery"},{"x":-8,"y":84.4,"Label":"PRID_gallery"},{"x":-7.3,"y":82.7,"Label":"PRID_gallery"},{"x":-3.7,"y":86.7,"Label":"PRID_gallery"},{"x":-0.5,"y":88.5,"Label":"PRID_gallery"},{"x":0.6,"y":88.7,"Label":"PRID_gallery"},{"x":-1.2,"y":87.7,"Label":"PRID_gallery"},{"x":5.6,"y":83.8,"Label":"PRID_gallery"},{"x":6.1,"y":81.7,"Label":"PRID_gallery"},{"x":5.6,"y":81,"Label":"PRID_gallery"},{"x":1.3,"y":83.4,"Label":"PRID_gallery"},{"x":-0.9,"y":84.4,"Label":"PRID_gallery"},{"x":-1.9,"y":81.5,"Label":"PRID_gallery"},{"x":1.3,"y":80.5,"Label":"PRID_gallery"},{"x":11.8,"y":78.4,"Label":"PRID_gallery"},{"x":11.2,"y":76.6,"Label":"PRID_gallery"},{"x":-2.2,"y":73.3,"Label":"PRID_gallery"},{"x":0.9,"y":68.5,"Label":"PRID_gallery"},{"x":1.3,"y":74.3,"Label":"PRID_gallery"},{"x":3.3,"y":71.9,"Label":"PRID_gallery"},{"x":7,"y":76.2,"Label":"PRID_gallery"},{"x":7.5,"y":75.2,"Label":"PRID_gallery"},{"x":10.4,"y":71.9,"Label":"PRID_gallery"},{"x":9,"y":68.7,"Label":"PRID_gallery"},{"x":11.8,"y":66.5,"Label":"PRID_gallery"},{"x":14.6,"y":69,"Label":"PRID_gallery"},{"x":13.6,"y":70.4,"Label":"PRID_gallery"},{"x":17.1,"y":71.4,"Label":"PRID_gallery"},{"x":18.5,"y":71.1,"Label":"PRID_gallery"},{"x":16.1,"y":70.1,"Label":"PRID_gallery"},{"x":14,"y":61.5,"Label":"PRID_gallery"},{"x":16.4,"y":60.8,"Label":"PRID_gallery"},{"x":18.8,"y":58.9,"Label":"PRID_gallery"},{"x":19.2,"y":58.4,"Label":"PRID_gallery"},{"x":19.9,"y":56.3,"Label":"PRID_gallery"},{"x":-5.7,"y":79.1,"Label":"PRID_gallery"},{"x":-3.3,"y":79.1,"Label":"PRID_gallery"},{"x":-5.1,"y":81,"Label":"PRID_gallery"},{"x":8,"y":73.3,"Label":"PRID_gallery"},{"x":6.1,"y":71.9,"Label":"PRID_gallery"},{"x":2.3,"y":76.2,"Label":"PRID_gallery"},{"x":-6.6,"y":83.8,"Label":"PRID_gallery"},{"x":42.8,"y":0,"Label":"PRID_gallery"},{"x":65,"y":-22.7,"Label":"PRID_gallery"},{"x":-4.2,"y":77.6,"Label":"PRID_gallery"},{"x":-1.9,"y":77.6,"Label":"PRID_gallery"},{"x":-0.5,"y":76.2,"Label":"PRID_gallery"},{"x":-0.5,"y":80.5,"Label":"PRID_gallery"},{"x":-3.3,"y":74.7,"Label":"PRID_gallery"},{"x":5.1,"y":74.7,"Label":"PRID_gallery"},{"x":3.7,"y":76.2,"Label":"PRID_gallery"},{"x":3.7,"y":71.1,"Label":"PRID_gallery"},{"x":12.2,"y":69.7,"Label":"PRID_gallery"},{"x":9.4,"y":74,"Label":"PRID_gallery"},{"x":3.7,"y":79.1,"Label":"PRID_gallery"},{"x":-0.5,"y":70.4,"Label":"PRID_gallery"},{"x":2.3,"y":69.7,"Label":"PRID_gallery"},{"x":5.1,"y":70.4,"Label":"PRID_gallery"},{"x":8,"y":70.4,"Label":"PRID_gallery"},{"x":10.8,"y":69.7,"Label":"PRID_gallery"},{"x":3.7,"y":82,"Label":"PRID_gallery"},{"x":-0.5,"y":82,"Label":"PRID_gallery"},{"x":-6.8,"y":80.5,"Label":"PRID_gallery"},{"x":-10.4,"y":84.8,"Label":"PRID_gallery"},{"x":-9,"y":80.5,"Label":"PRID_gallery"},{"x":-6.8,"y":85.6,"Label":"PRID_gallery"},{"x":1.2,"y":77.6,"Label":"PRID_gallery"},{"x":3.7,"y":74,"Label":"PRID_gallery"},{"x":-1.9,"y":76.2,"Label":"PRID_gallery"},
{"x":-27,"y":4.5,"Label":"iLIDS_query"},{"x":-52.7,"y":-2.2,"Label":"iLIDS_query"},{"x":-48.9,"y":-3.9,"Label":"iLIDS_query"},{"x":-43.2,"y":-17.6,"Label":"iLIDS_query"},{"x":-15.7,"y":-17.6,"Label":"iLIDS_query"},{"x":-20.8,"y":-19.5,"Label":"iLIDS_query"},{"x":-20,"y":-21.5,"Label":"iLIDS_query"},{"x":-25.9,"y":-23.4,"Label":"iLIDS_query"},{"x":-26.6,"y":-24.1,"Label":"iLIDS_query"},{"x":-31.1,"y":-27,"Label":"iLIDS_query"},{"x":-24.2,"y":-28.1,"Label":"iLIDS_query"},{"x":-17.7,"y":-4.2,"Label":"iLIDS_query"},{"x":-12.5,"y":-11.4,"Label":"iLIDS_query"},{"x":6.3,"y":-4.3,"Label":"iLIDS_query"},{"x":8.2,"y":-5.3,"Label":"iLIDS_query"},{"x":13.2,"y":-13.6,"Label":"iLIDS_query"},{"x":6.1,"y":-15.7,"Label":"iLIDS_query"},{"x":-6.6,"y":-20.9,"Label":"iLIDS_query"},{"x":30.2,"y":1.9,"Label":"iLIDS_query"},{"x":46.7,"y":-3.2,"Label":"iLIDS_query"},{"x":46,"y":-3.2,"Label":"iLIDS_query"},{"x":31.8,"y":-11.4,"Label":"iLIDS_query"},{"x":33.3,"y":-12.3,"Label":"iLIDS_query"},{"x":44.2,"y":-14.4,"Label":"iLIDS_query"},{"x":45.5,"y":-14.7,"Label":"iLIDS_query"},{"x":44.3,"y":-20,"Label":"iLIDS_query"},{"x":45.5,"y":-21.2,"Label":"iLIDS_query"},{"x":42.4,"y":-23.8,"Label":"iLIDS_query"},{"x":48.9,"y":-26.7,"Label":"iLIDS_query"},{"x":53.1,"y":-31.7,"Label":"iLIDS_query"},{"x":52.7,"y":-33.5,"Label":"iLIDS_query"},{"x":54.1,"y":-33.9,"Label":"iLIDS_query"},{"x":52.4,"y":-38.1,"Label":"iLIDS_query"},{"x":47,"y":-32.5,"Label":"iLIDS_query"},{"x":56.9,"y":-40.3,"Label":"iLIDS_query"},{"x":58,"y":-42.1,"Label":"iLIDS_query"},{"x":61.1,"y":-42.1,"Label":"iLIDS_query"},{"x":39.4,"y":-44,"Label":"iLIDS_query"},{"x":41.1,"y":-45.3,"Label":"iLIDS_query"},{"x":50.8,"y":-44.6,"Label":"iLIDS_query"},{"x":52.7,"y":-44,"Label":"iLIDS_query"},{"x":23.1,"y":-29.6,"Label":"iLIDS_query"},{"x":7.3,"y":-31.3,"Label":"iLIDS_query"},{"x":13.6,"y":-40.7,"Label":"iLIDS_query"},{"x":2.8,"y":-41.7,"Label":"iLIDS_query"},{"x":3.3,"y":-42.9,"Label":"iLIDS_query"},{"x":-11.4,"y":-43.3,"Label":"iLIDS_query"},{"x":-3.3,"y":-49.8,"Label":"iLIDS_query"},{"x":-2.9,"y":-49.8,"Label":"iLIDS_query"},{"x":22.3,"y":-28.9,"Label":"iLIDS_query"},{"x":8.4,"y":-43.6,"Label":"iLIDS_query"},{"x":-3.7,"y":-46,"Label":"iLIDS_query"},
{"x":-53.6,"y":2,"Label":"iLIDS_gallery"},{"x":-52.9,"y":-3.3,"Label":"iLIDS_gallery"},{"x":-47.9,"y":-4.6,"Label":"iLIDS_gallery"},{"x":-47.7,"y":-5.2,"Label":"iLIDS_gallery"},{"x":-29.1,"y":-27.1,"Label":"iLIDS_gallery"},{"x":-24.5,"y":-30.6,"Label":"iLIDS_gallery"},{"x":-28.3,"y":-30.6,"Label":"iLIDS_gallery"},{"x":-21.1,"y":-22.2,"Label":"iLIDS_gallery"},{"x":-21.2,"y":-22.5,"Label":"iLIDS_gallery"},{"x":-5.9,"y":-20.1,"Label":"iLIDS_gallery"},{"x":0.35,"y":-25.3,"Label":"iLIDS_gallery"},{"x":6.4,"y":-5.5,"Label":"iLIDS_gallery"},{"x":7.3,"y":-15.4,"Label":"iLIDS_gallery"},{"x":11.1,"y":-20.8,"Label":"iLIDS_gallery"},{"x":14.7,"y":-20.8,"Label":"iLIDS_gallery"},{"x":-9.4,"y":-36.1,"Label":"iLIDS_gallery"},{"x":-9.4,"y":-36.5,"Label":"iLIDS_gallery"},{"x":3.6,"y":-39,"Label":"iLIDS_gallery"},{"x":3.7,"y":-39.5,"Label":"iLIDS_gallery"},{"x":33.3,"y":-14.7,"Label":"iLIDS_gallery"},{"x":30.2,"y":-29.7,"Label":"iLIDS_gallery"},{"x":34.5,"y":3.3,"Label":"iLIDS_gallery"},{"x":42.5,"y":-9.2,"Label":"iLIDS_gallery"},{"x":42.5,"y":-9.8,"Label":"iLIDS_gallery"},{"x":47.4,"y":-25.8,"Label":"iLIDS_gallery"},{"x":-12.9,"y":-41.8,"Label":"iLIDS_gallery"},{"x":-10.4,"y":-41.4,"Label":"iLIDS_gallery"},{"x":-7.3,"y":-43.3,"Label":"iLIDS_gallery"},{"x":-6.6,"y":-43.9,"Label":"iLIDS_gallery"},{"x":-3.3,"y":-44.6,"Label":"iLIDS_gallery"},{"x":-3.3,"y":-46.9,"Label":"iLIDS_gallery"},{"x":-2.3,"y":-49.4,"Label":"iLIDS_gallery"},{"x":-0.5,"y":-49.4,"Label":"iLIDS_gallery"},{"x":1.6,"y":-51.9,"Label":"iLIDS_gallery"},{"x":3.7,"y":-51.8,"Label":"iLIDS_gallery"},{"x":6.5,"y":-41.8,"Label":"iLIDS_gallery"},{"x":8,"y":-43.1,"Label":"iLIDS_gallery"},{"x":7.3,"y":-46,"Label":"iLIDS_gallery"},{"x":8,"y":-47.5,"Label":"iLIDS_gallery"},{"x":10.1,"y":-46.5,"Label":"iLIDS_gallery"},{"x":11.5,"y":-45.5,"Label":"iLIDS_gallery"},{"x":9.8,"y":-34.9,"Label":"iLIDS_gallery"},{"x":11.2,"y":-35.2,"Label":"iLIDS_gallery"},{"x":12.9,"y":-34.9,"Label":"iLIDS_gallery"},{"x":22.3,"y":-48.2,"Label":"iLIDS_gallery"},{"x":21.1,"y":-33.5,"Label":"iLIDS_gallery"},{"x":19.9,"y":-54.1,"Label":"iLIDS_gallery"},{"x":6.1,"y":-57.3,"Label":"iLIDS_gallery"},{"x":37.6,"y":-43.9,"Label":"iLIDS_gallery"},{"x":46.5,"y":-42.9,"Label":"iLIDS_gallery"},{"x":51,"y":-41.8,"Label":"iLIDS_gallery"},{"x":50.3,"y":-45.5,"Label":"iLIDS_gallery"},{"x":47,"y":-46,"Label":"iLIDS_gallery"},{"x":47.7,"y":-49.1,"Label":"iLIDS_gallery"},{"x":53.9,"y":-38.2,"Label":"iLIDS_gallery"},{"x":59.7,"y":-39.5,"Label":"iLIDS_gallery"},{"x":60.8,"y":-41.7,"Label":"iLIDS_gallery"}
]},
"mark":{"type":"point","filled":true,"size":300,"fillOpacity":0.8,"strokeOpacity":0.8,"clip":false},
"encoding":{
"x":{"field":"x","type":"quantitative","title":"x","scale":{"domain":[-82.1,72.5],"nice":false,"zero":false},
"axis":{"values":[-80,-60,-40,-20,0,20,40,60],"grid":false,"labelFontSize":20.4,"titleFontSize":20.4,"titleFontWeight":"normal","labelColor":"black","titleColor":"black","domainColor":"black","tickColor":"black","domainWidth":1.6,"tickWidth":1.6,"tickSize":7,"labelPadding":6,"titlePadding":9,"format":"d"}},
"y":{"field":"y","type":"quantitative","title":"y","scale":{"domain":[-65.4,96.1],"nice":false,"zero":false},
"axis":{"values":[-60,-40,-20,0,20,40,60,80],"grid":false,"labelFontSize":20.4,"titleFontSize":20.4,"titleFontWeight":"normal","labelColor":"black","titleColor":"black","domainColor":"black","tickColor":"black","domainWidth":1.6,"tickWidth":1.6,"tickSize":7,"labelPadding":6,"titlePadding":10,"format":"d"}},
"color":{"field":"Label","type":"nominal","scale":{"domain":["CUHK02","CUHK03","Market1501","DukeMTMC","CUHK_SYSU","GRID_query","GRID_gallery","VIPER_query","VIPER_gallery","PRID_query","PRID_gallery","iLIDS_query","iLIDS_gallery"],"range":["#bcbd22","#7f7f7f","#e377c2","#8c564b","#9467bd","#d62728","#d62728","#2ca02c","#2ca02c","#ff7f0e","#ff7f0e","#1f77b4","#1f77b4"]},
"legend":{"title":"Label","orient":"none","legendX":869,"legendY":10,"titleFontSize":20.4,"titleFontWeight":"normal","titleColor":"black","titleAnchor":"middle","titleAlign":"center","titlePadding":11,"labelFontSize":20.4,"labelColor":"black","labelOffset":27,"symbolOffset":11,"symbolSize":300,"rowPadding":-11,"gridAlign":"all","padding":8,"strokeColor":"#d5d5d5","fillColor":"white","cornerRadius":4,"symbolOpacity":0.8}},
"stroke":{"field":"Label","type":"nominal","scale":{"domain":["CUHK02","CUHK03","Market1501","DukeMTMC","CUHK_SYSU","GRID_query","GRID_gallery","VIPER_query","VIPER_gallery","PRID_query","PRID_gallery","iLIDS_query","iLIDS_gallery"],"range":["#bcbd22","#7f7f7f","#e377c2","#8c564b","#9467bd","#d62728","#d62728","#2ca02c","#2ca02c","#ff7f0e","#ff7f0e","#1f77b4","#1f77b4"]}},
"shape":{"field":"Label","type":"nominal","scale":{"domain":["CUHK02","CUHK03","Market1501","DukeMTMC","CUHK_SYSU","GRID_query","GRID_gallery","VIPER_query","VIPER_gallery","PRID_query","PRID_gallery","iLIDS_query","iLIDS_gallery"],"range":["M1,0A1,1,0,1,1,-1,0A1,1,0,1,1,1,0Z","M1,0A1,1,0,1,1,-1,0A1,1,0,1,1,1,0Z","M1,0A1,1,0,1,1,-1,0A1,1,0,1,1,1,0Z","M1,0A1,1,0,1,1,-1,0A1,1,0,1,1,1,0Z","M1,0A1,1,0,1,1,-1,0A1,1,0,1,1,1,0Z","M0,0L0,1.725M0,0L1.5,-0.8625M0,0L-1.5,-0.8625","M0,-1.7L1.472,-0.85L1.472,0.85L0,1.7L-1.472,0.85L-1.472,-0.85Z","M0,0L0,1.725M0,0L1.5,-0.8625M0,0L-1.5,-0.8625","M0,-1.7L1.472,-0.85L1.472,0.85L0,1.7L-1.472,0.85L-1.472,-0.85Z","M0,0L0,1.725M0,0L1.5,-0.8625M0,0L-1.5,-0.8625","M0,-1.7L1.472,-0.85L1.472,0.85L0,1.7L-1.472,0.85L-1.472,-0.85Z","M0,0L0,1.725M0,0L1.5,-0.8625M0,0L-1.5,-0.8625","M0,-1.7L1.472,-0.85L1.472,0.85L0,1.7L-1.472,0.85L-1.472,-0.85Z"]}},
"strokeWidth":{"field":"Label","type":"nominal","scale":{"type":"ordinal","domain":["CUHK02","CUHK03","Market1501","DukeMTMC","CUHK_SYSU","GRID_query","GRID_gallery","VIPER_query","VIPER_gallery","PRID_query","PRID_gallery","iLIDS_query","iLIDS_gallery"],"range":[1,1,1,1,1,3,2,3,2,3,2,3,2]}}
}
}
